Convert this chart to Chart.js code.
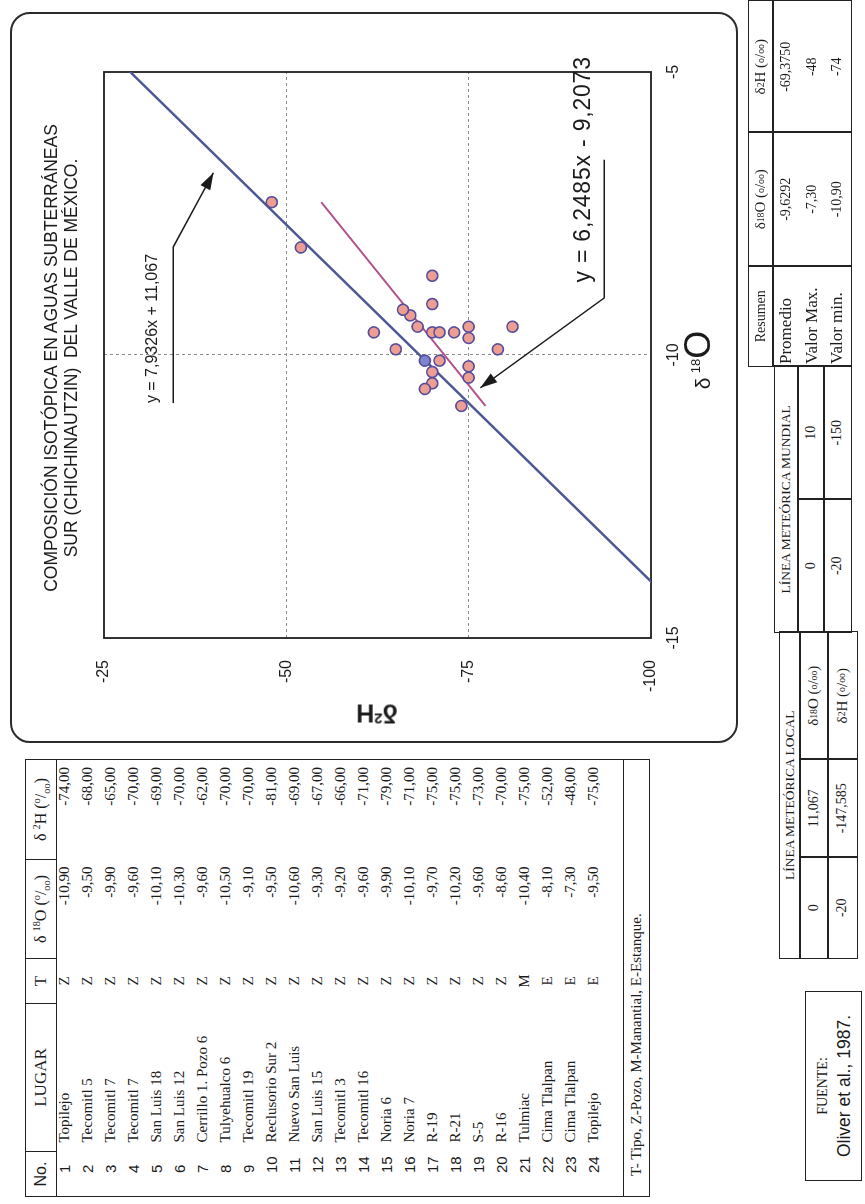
<!DOCTYPE html>
<html>
<head>
<meta charset="utf-8">
<script src="https://cdn.jsdelivr.net/npm/chart.js@4.4.0/dist/chart.umd.min.js"></script>
<style>
  html, body { margin:0; padding:0; background:#fff; overflow:hidden; }
  body { width:865px; height:1204px; position:relative; }
  /* the whole sheet is laid out landscape, then turned a quarter to the left */
  #page { position:absolute; left:0; top:0; width:1204px; height:865px;
          transform-origin:0 0; transform:translateY(1204px) rotate(-90deg);
          font-family:"Liberation Serif", "Times New Roman", serif; color:#1b1b1b; }
  .abs { position:absolute; }
  .sans { font-family:"Liberation Sans", Arial, sans-serif; }
  #chartBox { left:461px; top:10px; width:731px; height:728px; box-sizing:border-box;
              border:2px solid #2b2b2b; border-radius:20px; }
  #chart { position:absolute; left:461px; top:10px; }
  #title { left:546px; top:41px; width:600px; text-align:center; font-size:17.5px; line-height:20px; }
  #yTitle { left:491px; top:377px; transform:translate(-50%,-50%) rotate(-90deg); font-weight:bold; font-size:25px; white-space:nowrap; }
  #xTitle { left:844px; top:698px; transform:translate(-50%,-50%); white-space:nowrap; line-height:1; }

  #lugar { left:7px; top:25px; width:437px; border-collapse:collapse; table-layout:fixed;
           border:1.5px solid #222; font-size:15px; }
  #lugar th { height:30px; border:1.5px solid #222; font-weight:normal; padding:0; font-size:16px; }
  #lugar td { height:23px; padding:0; vertical-align:top; line-height:15px; white-space:nowrap; }
  #lugar td.n { padding-left:23px; font-family:"Liberation Sans", Arial, sans-serif; }
  #lugar td.l { padding-left:9px; }
  #lugar td.t { text-align:center; }
  #lugar td.v { text-align:right; padding-right:7px; }
  #lugar tr.gap td { height:14px; }
  #lugar tr.foot td { border-top:1.5px solid #222; height:25px; vertical-align:middle; padding-left:20px; }

  .cell { position:absolute; box-sizing:border-box; border:1.5px solid #222; display:flex;
          align-items:center; justify-content:center; white-space:nowrap; font-size:14px; }
  .col { position:absolute; box-sizing:border-box; border:1.5px solid #222; }
  .col div { position:absolute; left:0; right:0; white-space:nowrap; }
  sup, sub { font-size:65%; line-height:0; }
</style>
</head>
<body>
<div id="page">
  <table id="lugar" class="abs"></table>

  <div id="chartBox" class="abs"></div>
  <canvas id="chart" width="731" height="728"></canvas>
  <div id="title" class="abs sans">COMPOSICIÓN ISOTÓPICA EN AGUAS SUBTERRÁNEAS<br>SUR (CHICHINAUTZIN)&nbsp; DEL VALLE DE MÉXICO.</div>
  <div id="yTitle" class="abs sans">δ<sup style="font-size:15px">2</sup>H</div>
  <div id="xTitle" class="abs sans"><span style="font-size:21px">δ</span> <sup style="font-size:13px;position:relative;top:-4px">18</sup><span style="font-size:36px">O</span></div>

  <div id="tables"></div>

  <div class="cell" style="left:23px;top:805px;width:190px;height:57px;display:block;text-align:center;">
    <div style="font-size:14px;margin-top:9px;">FUENTE:</div>
    <div class="sans" style="font-size:17.5px;margin-top:3px;">Oliver et al., 1987.</div>
  </div>
</div>

<script>
// sample sites (table and scatter points)
const lugares = ['Topilejo', 'Tecomitl 5', 'Tecomitl 7', 'Tecomitl 7', 'San Luis 18', 'San Luis 12',
  'Cerrillo 1. Pozo 6', 'Tulyehualco 6', 'Tecomitl 19', 'Reclusorio Sur 2', 'Nuevo San Luis', 'San Luis 15',
  'Tecomitl 3', 'Tecomitl 16', 'Noria 6', 'Noria 7', 'R-19', 'R-21', 'S-5', 'R-16', 'Tulmiac',
  'Cima Tlalpan', 'Cima Tlalpan', 'Topilejo'];
const tipos = ['Z','Z','Z','Z','Z','Z','Z','Z','Z','Z','Z','Z','Z','Z','Z','Z','Z','Z','Z','Z','M','E','E','E'];
const d18O = [-10.9, -9.5, -9.9, -9.6, -10.1, -10.3, -9.6, -10.5, -9.1, -9.5, -10.6, -9.3,
  -9.2, -9.6, -9.9, -10.1, -9.7, -10.2, -9.6, -8.6, -10.4, -8.1, -7.3, -9.5];
const d2H = [-74, -68, -65, -70, -69, -70, -62, -70, -70, -81, -69, -67,
  -66, -71, -79, -71, -75, -75, -73, -70, -75, -52, -48, -75];
const highlighted = 4; // the one point drawn in blue

// local meteoric line (two points of the table) and the trend line of the samples
const localX = [0, -20];
const localY = [11.067, -147.585];
const mundialX = [0, -20];
const mundialY = [10, -150];
const trendX = [-10.9, -7.3];
const trendY = [-77.3, -54.8];

const xTickVals = [-15, -10, -5];
const yTickVals = [-100, -75, -50, -25];

const resumenRows = ['Promedio', 'Valor Max.', 'Valor min.'];
const resumenO = ['-9,6292', '-7,30', '-10,90'];
const resumenH = ['-69,3750', '-48', '-74'];

const SANS = '"Liberation Sans", Arial, sans-serif';
const fmt = v => v.toFixed(2).replace('.', ',');
const fmtNum = v => String(v).replace('.', ',');
const O18 = 'δ <sup>18</sup>O (<sup>o</sup>/<sub>oo</sub>)';
const H2 = 'δ <sup>2</sup>H (<sup>o</sup>/<sub>oo</sub>)';

// ---- site table
let rows = `<colgroup><col style="width:45px"><col style="width:148px"><col style="width:45px"><col style="width:99px"><col style="width:100px"></colgroup>
<tr><th class="sans">No.</th><th style="font-size:17px">LUGAR</th><th style="font-size:17px">T</th><th>${O18}</th><th>${H2}</th></tr>`;
lugares.forEach((name, i) => {
  rows += `<tr><td class="n">${i + 1}</td><td class="l">${name}</td><td class="t">${tipos[i]}</td><td class="v">${fmt(d18O[i])}</td><td class="v">${fmt(d2H[i])}</td></tr>`;
});
rows += `<tr class="gap"><td colspan="5"></td></tr>
<tr class="foot"><td colspan="5">T- Tipo, Z-Pozo, M-Manantial, E-Estanque.</td></tr>`;
document.getElementById('lugar').innerHTML = rows;

// ---- bottom tables (meteoric lines + summary)
const cell = (l, r, t, b, html, extra = '') =>
  `<div class="cell" style="left:${l}px;top:${t}px;width:${r - l + 1.5}px;height:${b - t + 1.5}px;${extra}">${html}</div>`;
let t = '';
t += cell(245, 571, 779, 799, 'LÍNEA METEÓRICA LOCAL', 'font-size:13.5px;');
t += cell(245, 346, 799, 827, fmtNum(localX[0]));
t += cell(346, 444, 799, 827, fmtNum(localY[0]));
t += cell(444, 571, 799, 827, O18, 'font-size:15px;');
t += cell(245, 346, 827, 856, fmtNum(localX[1]));
t += cell(346, 444, 827, 856, fmtNum(localY[1]));
t += cell(444, 571, 827, 856, H2, 'font-size:15px;');
t += cell(571, 837, 774, 797, 'LÍNEA METEÓRICA MUNDIAL', 'font-size:13.5px;');
t += cell(571, 704, 797, 823, fmtNum(mundialX[0]));
t += cell(704, 837, 797, 823, fmtNum(mundialY[0]));
t += cell(571, 704, 823, 850, fmtNum(mundialX[1]));
t += cell(704, 837, 823, 850, fmtNum(mundialY[1]));
t += cell(837, 937, 748, 772, 'Resumen', `font-family:${SANS};font-size:15px;`);
t += cell(937, 1071, 748, 772, O18, 'font-size:15px;');
t += cell(1071, 1202, 748, 772, H2, 'font-size:15px;');
const colBody = (l, r, items, style) => {
  let inner = items.map((s, i) => `<div style="top:${1 + i * 25.5}px;${style}">${s}</div>`).join('');
  return `<div class="col" style="left:${l}px;top:772px;width:${r - l + 1.5}px;height:79.5px;">${inner}</div>`;
};
t += colBody(837, 937, resumenRows, 'font-size:17px;padding-left:2px;line-height:24px;');
t += colBody(937, 1071, resumenO, 'font-size:14px;text-align:center;line-height:24px;');
t += colBody(1071, 1202, resumenH, 'font-size:14px;text-align:center;line-height:24px;');
document.getElementById('tables').innerHTML = t;

// ---- equation labels with their leader arrows (positions in data units)
const eqNotes = [
  { text: 'y = 7,9326x + 11,067', size: 16, spacing: 0, at: [-10.85, -31.7], from: [-10.85, -34.5], elbow: [-8.09, -34.5], tip: [-6.78, -40.0] },
  { text: 'y = 6,2485x - 9,2073', size: 23, spacing: 0.8, at: [-8.72, -90.8], from: [-6.55, -93.6], elbow: [-8.99, -93.6], tip: [-10.58, -76.6] },
];

const notesPlugin = {
  id: 'notes',
  beforeDatasetsDraw(chart) {
    const { ctx, chartArea: a } = chart;
    ctx.save();
    ctx.strokeStyle = '#1e1e1e';
    ctx.lineWidth = 1.8;
    ctx.strokeRect(a.left, a.top, a.right - a.left, a.bottom - a.top);
    ctx.restore();
  },
  afterDatasetsDraw(chart) {
    const { ctx } = chart;
    const P = ([x, y]) => [chart.scales.x.getPixelForValue(x), chart.scales.y.getPixelForValue(y)];
    ctx.save();
    eqNotes.forEach(n => {
      const [tx, ty] = P(n.at);
      ctx.fillStyle = '#1b1b1b';
      ctx.font = `${n.size}px ${SANS}`;
      if ('letterSpacing' in ctx) ctx.letterSpacing = n.spacing + 'px';
      ctx.textBaseline = 'middle';
      ctx.textAlign = 'left';
      ctx.fillText(n.text, tx, ty);
      if ('letterSpacing' in ctx) ctx.letterSpacing = '0px';
      const a = P(n.from), e = P(n.elbow), tip = P(n.tip);
      ctx.strokeStyle = '#1b1b1b';
      ctx.lineWidth = 1.5;
      ctx.beginPath();
      ctx.moveTo(a[0], a[1]);
      ctx.lineTo(e[0], e[1]);
      ctx.lineTo(tip[0], tip[1]);
      ctx.stroke();
      // arrow head
      const ang = Math.atan2(tip[1] - e[1], tip[0] - e[0]);
      const len = 17, half = 5.5;
      const bx = tip[0] - len * Math.cos(ang), by = tip[1] - len * Math.sin(ang);
      ctx.fillStyle = '#1b1b1b';
      ctx.beginPath();
      ctx.moveTo(tip[0], tip[1]);
      ctx.lineTo(bx + half * Math.sin(ang), by - half * Math.cos(ang));
      ctx.lineTo(bx - half * Math.sin(ang), by + half * Math.cos(ang));
      ctx.closePath();
      ctx.fill();
    });
    ctx.restore();
  }
};

const innerGrid = (vals) => (c) => (c.tick && c.tick.value !== vals[0] && c.tick.value !== vals[vals.length - 1]) ? '#8c8c8c' : 'rgba(0,0,0,0)';

new Chart(document.getElementById('chart'), {
  type: 'scatter',
  data: {
    datasets: [
      { label: 'Línea meteórica local', data: localX.map((x, i) => ({ x, y: localY[i] })), showLine: true,
        borderColor: '#4c5894', borderWidth: 2.5, pointRadius: 0, order: 3 },
      { label: 'Tendencia', data: trendX.map((x, i) => ({ x, y: trendY[i] })), showLine: true,
        borderColor: '#b24f8c', borderWidth: 2, pointRadius: 0, order: 2 },
      { label: 'Muestras', data: d18O.map((x, i) => ({ x, y: d2H[i] })),
        pointRadius: 5.5, pointBorderWidth: 1.6, pointBorderColor: '#564e9c',
        pointBackgroundColor: d18O.map((_, i) => i === highlighted ? '#7d85cf' : '#ee9d93'), order: 1 },
    ]
  },
  options: {
    responsive: false,
    animation: false,
    layout: { padding: { left: 0, right: 60, top: 94, bottom: 0 } },
    plugins: { legend: { display: false }, tooltip: { enabled: false } },
    scales: {
      x: {
        type: 'linear', min: -15, max: -5,
        afterBuildTicks: s => { s.ticks = xTickVals.map(v => ({ value: v })); },
        afterFit: s => { s.height = 87; },
        ticks: { color: '#1b1b1b', font: { family: SANS, size: 16 }, padding: 13 },
        grid: { color: innerGrid(xTickVals), lineWidth: 1, drawTicks: false, tickLength: 0 },
        border: { display: false, dash: [3, 3] }
      },
      y: {
        type: 'linear', min: -100, max: -25,
        afterBuildTicks: s => { s.ticks = yTickVals.map(v => ({ value: v })); },
        afterFit: s => { s.width = 105; },
        ticks: { color: '#1b1b1b', font: { family: SANS, size: 16 }, padding: 22 },
        grid: { color: innerGrid(yTickVals), lineWidth: 1, drawTicks: false, tickLength: 0 },
        border: { display: false, dash: [3, 3] }
      }
    }
  },
  plugins: [notesPlugin]
});
</script>
</body>
</html>
